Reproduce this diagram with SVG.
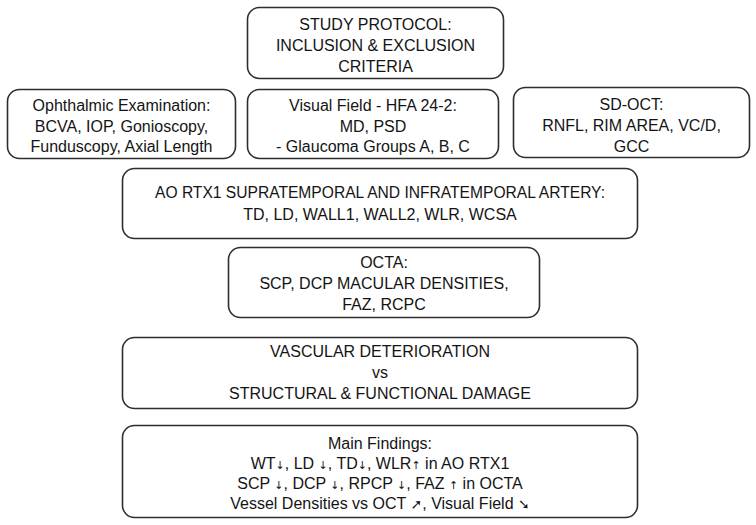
<svg xmlns="http://www.w3.org/2000/svg" width="756" height="525" viewBox="0 0 756 525">
<style>
.box{fill:#ffffff;stroke:#2e2e2e;stroke-width:1.6}
text{font-family:"Liberation Sans","DejaVu Sans",Arial,sans-serif;font-size:16px;fill:#141414;text-anchor:middle}
.ar{font-family:"DejaVu Sans","Liberation Sans",sans-serif;font-size:11px}
.ar2{font-family:"DejaVu Sans","Liberation Sans",sans-serif;font-size:14px}
</style>
<rect x="0" y="0" width="756" height="525" fill="#ffffff"/>
<g id="connectors"></g>
<g id="study-protocol">
<rect class="box" x="247.5" y="7.5" width="256" height="71" rx="12"/>
<text x="375.5" y="30">STUDY PROTOCOL:</text>
<text x="375.5" y="51">INCLUSION &amp; EXCLUSION</text>
<text x="375.5" y="72">CRITERIA</text>
</g>
<g id="ophthalmic-exam">
<rect class="box" x="7.5" y="89.5" width="228" height="69" rx="12"/>
<text x="121.5" y="111">Ophthalmic Examination:</text>
<text x="121.5" y="131.5">BCVA, IOP, Gonioscopy,</text>
<text x="121.5" y="152">Funduscopy, Axial Length</text>
</g>
<g id="visual-field">
<rect class="box" x="247.5" y="89.5" width="251" height="69" rx="12"/>
<text x="373" y="111">Visual Field - HFA 24-2:</text>
<text x="373" y="131.5">MD, PSD</text>
<text x="373" y="152">- Glaucoma Groups A, B, C</text>
</g>
<g id="sd-oct">
<rect class="box" x="513.5" y="87.5" width="236" height="70" rx="12"/>
<text x="631.5" y="110">SD-OCT:</text>
<text x="631.5" y="131">RNFL, RIM AREA, VC/D,</text>
<text x="631.5" y="152">GCC</text>
</g>
<g id="ao-rtx1">
<rect class="box" x="122.5" y="168.5" width="515" height="70" rx="12"/>
<text x="380" y="198" textLength="450" lengthAdjust="spacingAndGlyphs">AO RTX1 SUPRATEMPORAL AND INFRATEMPORAL ARTERY:</text>
<text x="380" y="220">TD, LD, WALL1, WALL2, WLR, WCSA</text>
</g>
<g id="octa">
<rect class="box" x="228.5" y="247.5" width="311" height="70" rx="12"/>
<text x="384" y="268">OCTA:</text>
<text x="384" y="289">SCP, DCP MACULAR DENSITIES,</text>
<text x="384" y="310">FAZ, RCPC</text>
</g>
<g id="vascular-deterioration">
<rect class="box" x="122.5" y="337.5" width="515" height="71" rx="12"/>
<text x="380" y="357">VASCULAR DETERIORATION</text>
<text x="380" y="378">vs</text>
<text x="380" y="399">STRUCTURAL &amp; FUNCTIONAL DAMAGE</text>
</g>
<g id="main-findings">
<rect class="box" x="122.5" y="425.5" width="515" height="92" rx="12"/>
<text x="380" y="449">Main Findings:</text>
<text x="380" y="469">WT<tspan class="ar">↓</tspan>, LD <tspan class="ar">↓</tspan>, TD<tspan class="ar">↓</tspan>, WLR<tspan class="ar">↑</tspan> in AO RTX1</text>
<text x="380" y="489">SCP <tspan class="ar">↓</tspan>, DCP <tspan class="ar">↓</tspan>, RPCP <tspan class="ar">↓</tspan>, FAZ <tspan class="ar">↑</tspan> in OCTA</text>
<text x="380" y="509">Vessel Densities vs OCT <tspan class="ar2">➚</tspan>, Visual Field <tspan class="ar2">➘</tspan></text>
</g>
</svg>
